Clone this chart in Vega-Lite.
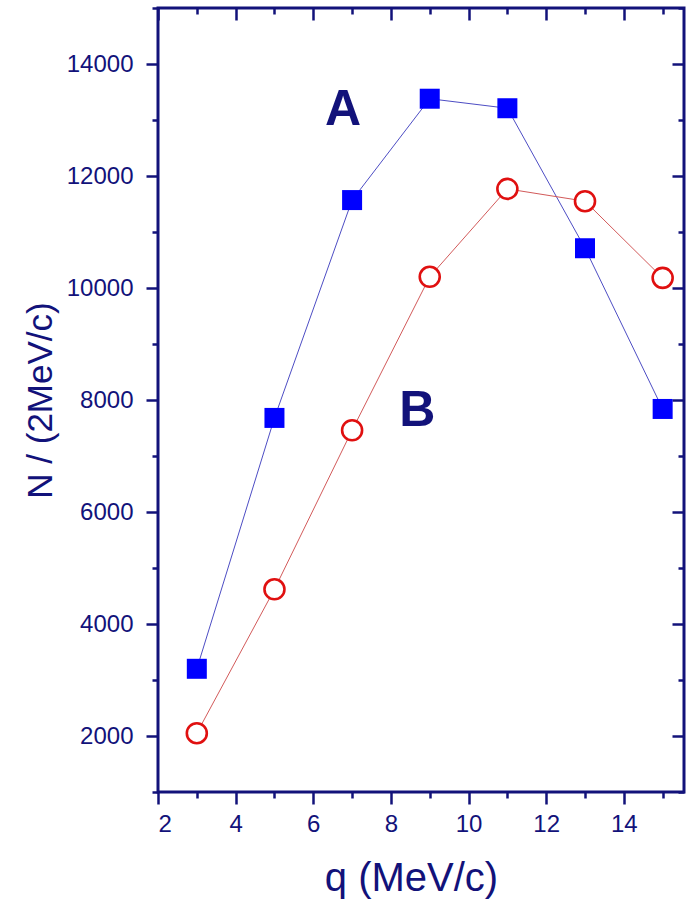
{
  "$schema": "https://vega.github.io/schema/vega-lite/v6.json",
  "width": 526,
  "height": 784,
  "autosize": {"type": "none"},
  "padding": {"left": 158, "top": 8, "right": 3, "bottom": 110},
  "background": "white",
  "config": {
    "view": {"stroke": "#12127a", "strokeWidth": 3},
    "font": "Liberation Sans",
    "axis": {
      "domain": false,
      "grid": false,
      "tickColor": "#12127a",
      "tickWidth": 2.5,
      "labelColor": "#12127a",
      "labelFont": "Liberation Sans",
      "labelFontSize": 24,
      "format": "d",
      "titleColor": "#12127a",
      "titleFont": "Liberation Sans",
      "titleFontWeight": "normal"
    }
  },
  "datasets": {
    "counts": [
      {"q": 3, "n": 3200, "series": "A"},
      {"q": 5, "n": 7680, "series": "A"},
      {"q": 7, "n": 11570, "series": "A"},
      {"q": 9, "n": 13380, "series": "A"},
      {"q": 11, "n": 13210, "series": "A"},
      {"q": 13, "n": 10710, "series": "A"},
      {"q": 15, "n": 7840, "series": "A"},
      {"q": 3, "n": 2050, "series": "B"},
      {"q": 5, "n": 4620, "series": "B"},
      {"q": 7, "n": 7460, "series": "B"},
      {"q": 9, "n": 10200, "series": "B"},
      {"q": 11, "n": 11770, "series": "B"},
      {"q": 13, "n": 11550, "series": "B"},
      {"q": 15, "n": 10180, "series": "B"}
    ],
    "tags": [
      {"q": 6.77, "n": 13180, "tag": "A"},
      {"q": 8.68, "n": 7800, "tag": "B"}
    ]
  },
  "resolve": {
    "scale": {"x": "shared", "y": "shared", "color": "independent"},
    "axis": {"x": "independent", "y": "independent"}
  },
  "layer": [
    {
      "data": {"name": "counts"},
      "mark": {"type": "line", "strokeWidth": 1},
      "encoding": {
        "x": {
          "field": "q", "type": "quantitative",
          "scale": {"domain": [2, 15.55], "nice": false, "zero": false},
          "axis": {
            "orient": "bottom", "values": [2, 4, 6, 8, 10, 12, 14],
            "tickSize": 12, "labelPadding": 8,
            "title": "q (MeV/c)", "titleFontSize": 40, "titlePadding": 22,
            "titleX": 253, "titleAlign": "center"
          }
        },
        "y": {
          "field": "n", "type": "quantitative",
          "scale": {"domain": [1000, 15000], "nice": false, "zero": false},
          "axis": {
            "orient": "left", "values": [2000, 4000, 6000, 8000, 10000, 12000, 14000],
            "tickSize": 12, "labelPadding": 13,
            "title": "N / (2MeV/c)", "titleFontSize": 35, "titlePadding": 8
          }
        },
        "color": {
          "field": "series", "type": "nominal",
          "scale": {"domain": ["A", "B"], "range": ["#4d4dc4", "#d25a5a"]},
          "legend": null
        }
      }
    },
    {
      "data": {"name": "counts"},
      "transform": [{"filter": "datum.series === 'A'"}],
      "mark": {"type": "point", "shape": "square", "filled": true, "size": 400, "color": "#0000ff", "opacity": 1},
      "encoding": {
        "x": {
          "field": "q", "type": "quantitative",
          "axis": {"orient": "bottom", "values": [3, 5, 7, 9, 11, 13, 15], "tickSize": 6, "labels": false, "title": null}
        },
        "y": {
          "field": "n", "type": "quantitative",
          "axis": {"orient": "left", "values": [1000, 3000, 5000, 7000, 9000, 11000, 13000, 15000], "tickSize": 6, "labels": false, "title": null}
        }
      }
    },
    {
      "data": {"name": "counts"},
      "transform": [{"filter": "datum.series === 'B'"}],
      "mark": {"type": "point", "shape": "circle", "filled": true, "fill": "white", "stroke": "#e01010", "strokeWidth": 2.6, "size": 400, "opacity": 1},
      "encoding": {
        "x": {
          "field": "q", "type": "quantitative",
          "axis": {"orient": "top", "values": [2, 4, 6, 8, 10, 12, 14], "tickSize": -12, "labels": false, "title": null}
        },
        "y": {
          "field": "n", "type": "quantitative",
          "axis": {"orient": "right", "values": [2000, 4000, 6000, 8000, 10000, 12000, 14000], "tickSize": -12, "labels": false, "title": null}
        }
      }
    },
    {
      "data": {"name": "tags"},
      "mark": {"type": "text", "fontSize": 50, "fontWeight": "bold", "font": "Liberation Sans", "color": "#12127a", "baseline": "middle", "align": "center"},
      "encoding": {
        "x": {
          "field": "q", "type": "quantitative",
          "axis": {"orient": "top", "values": [3, 5, 7, 9, 11, 13, 15], "tickSize": -6, "labels": false, "title": null}
        },
        "y": {
          "field": "n", "type": "quantitative",
          "axis": {"orient": "right", "values": [1000, 3000, 5000, 7000, 9000, 11000, 13000, 15000], "tickSize": -6, "labels": false, "title": null}
        },
        "text": {"field": "tag", "type": "nominal"}
      }
    }
  ]
}
